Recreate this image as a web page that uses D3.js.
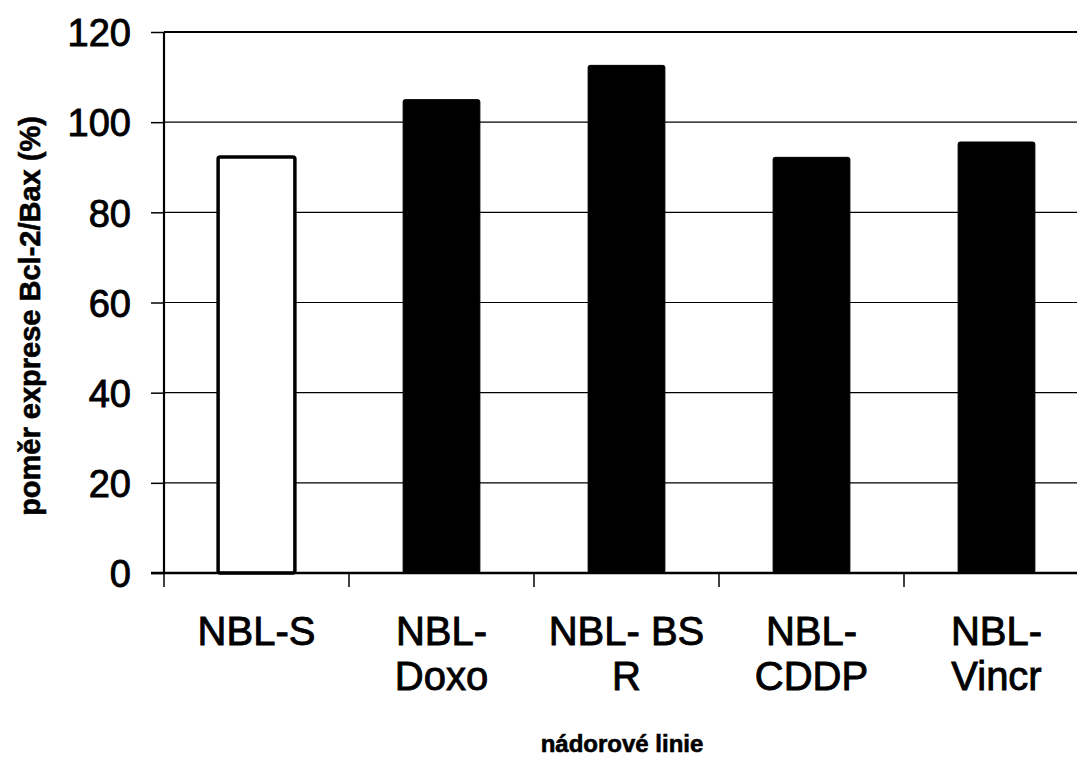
<!DOCTYPE html>
<html>
<head>
<meta charset="utf-8">
<script src="https://cdn.jsdelivr.net/npm/d3@7"></script>
<style>
  html, body { margin: 0; padding: 0; background: #fff; }
  svg { display: block; }
  text { font-family: "Liberation Sans", Arial, Helvetica, sans-serif; fill: #000; }
</style>
</head>
<body>
<svg id="chart" width="1077" height="758"></svg>
<script>
const categories = ["NBL-S", "NBL-Doxo", "NBL-BSR", "NBL-CDDP", "NBL-Vincr"];
const categoryLabels = [["NBL-S"], ["NBL-", "Doxo"], ["NBL- BS", "R"], ["NBL-", "CDDP"], ["NBL-", "Vincr"]];
const values = [92.3, 105.0, 112.6, 92.2, 95.6];
const fills = ["#ffffff", "#000000", "#000000", "#000000", "#000000"];
const yTicks = [0, 20, 40, 60, 80, 100, 120];
const yTitle = "poměr exprese Bcl-2/Bax (%)";
const xTitle = "nádorové linie";

const svg = d3.select("#chart");
const mLeft = 164, mRight = 1089, mTop = 32, mBottom = 573;

const x = d3.scaleBand().domain(categories).range([mLeft, mRight]).padding(0);
const y = d3.scaleLinear().domain([0, 120]).range([mBottom, mTop]);
const barW = x.bandwidth() * 0.415;

// gridlines
svg.append("g").selectAll("line").data(yTicks.filter(t => t > 0 && t < 120)).join("line")
  .attr("x1", mLeft).attr("x2", mRight)
  .attr("y1", d => y(d)).attr("y2", d => y(d))
  .attr("stroke", "#000").attr("stroke-width", 1.2);

// top border
svg.append("line").attr("x1", mLeft).attr("x2", mRight)
  .attr("y1", y(120)).attr("y2", y(120)).attr("stroke", "#000").attr("stroke-width", 2.2);

// bars
svg.append("g").selectAll("rect").data(categories).join("rect")
  .attr("x", (d) => x(d) + (x.bandwidth() - barW) / 2)
  .attr("y", (d, i) => y(values[i]))
  .attr("width", barW)
  .attr("height", (d, i) => y(0) - y(values[i]))
  .attr("rx", 2)
  .attr("fill", (d, i) => fills[i])
  .attr("stroke", "#000")
  .attr("stroke-width", (d, i) => fills[i] === "#ffffff" ? 3.5 : 1);

// y axis
const yAxis = d3.axisLeft(y).tickValues(yTicks).tickSize(13).tickPadding(20);
const gy = svg.append("g").attr("transform", `translate(${mLeft},0)`).call(yAxis);
gy.select(".domain").attr("stroke-width", 2.2).attr("d", `M0,${mTop}V${mBottom}`);
gy.selectAll(".tick line").attr("stroke-width", 1.5);
gy.selectAll(".tick text").attr("font-size", 38)
  .attr("font-family", "'Liberation Sans', Arial, sans-serif")
  .attr("dy", "0.36em").attr("stroke", "#000").attr("stroke-width", 0.9);

// x axis line
svg.append("line").attr("x1", mLeft - 13).attr("x2", mRight)
  .attr("y1", mBottom).attr("y2", mBottom).attr("stroke", "#000").attr("stroke-width", 2.5);

// x ticks at band boundaries
const bounds = categories.map(c => x(c)).concat([mRight]);
svg.append("g").selectAll("line").data(bounds).join("line")
  .attr("x1", d => d).attr("x2", d => d)
  .attr("y1", mBottom).attr("y2", mBottom + 14)
  .attr("stroke", "#000").attr("stroke-width", 1.5);

// x labels
const lab = svg.append("g").selectAll("text").data(categories).join("text")
  .attr("text-anchor", "middle")
  .attr("font-size", 40)
  .attr("stroke", "#000").attr("stroke-width", 0.9)
  .attr("x", d => x(d) + x.bandwidth() / 2)
  .attr("y", 645);
lab.each(function(d, i) {
  const t = d3.select(this);
  categoryLabels[i].forEach((line, k) => {
    t.append("tspan").attr("x", x(d) + x.bandwidth() / 2).attr("y", 645 + k * 45).text(line);
  });
});

// axis titles
svg.append("text")
  .attr("transform", `translate(40,316) rotate(-90)`)
  .attr("text-anchor", "middle")
  .attr("font-size", 29).attr("font-weight", "bold")
  .attr("stroke", "#000").attr("stroke-width", 0.6)
  .text(yTitle);

svg.append("text")
  .attr("x", 622).attr("y", 752)
  .attr("text-anchor", "middle")
  .attr("font-size", 24).attr("font-weight", "bold")
  .attr("stroke", "#000").attr("stroke-width", 0.6)
  .text(xTitle);
</script>
</body>
</html>
